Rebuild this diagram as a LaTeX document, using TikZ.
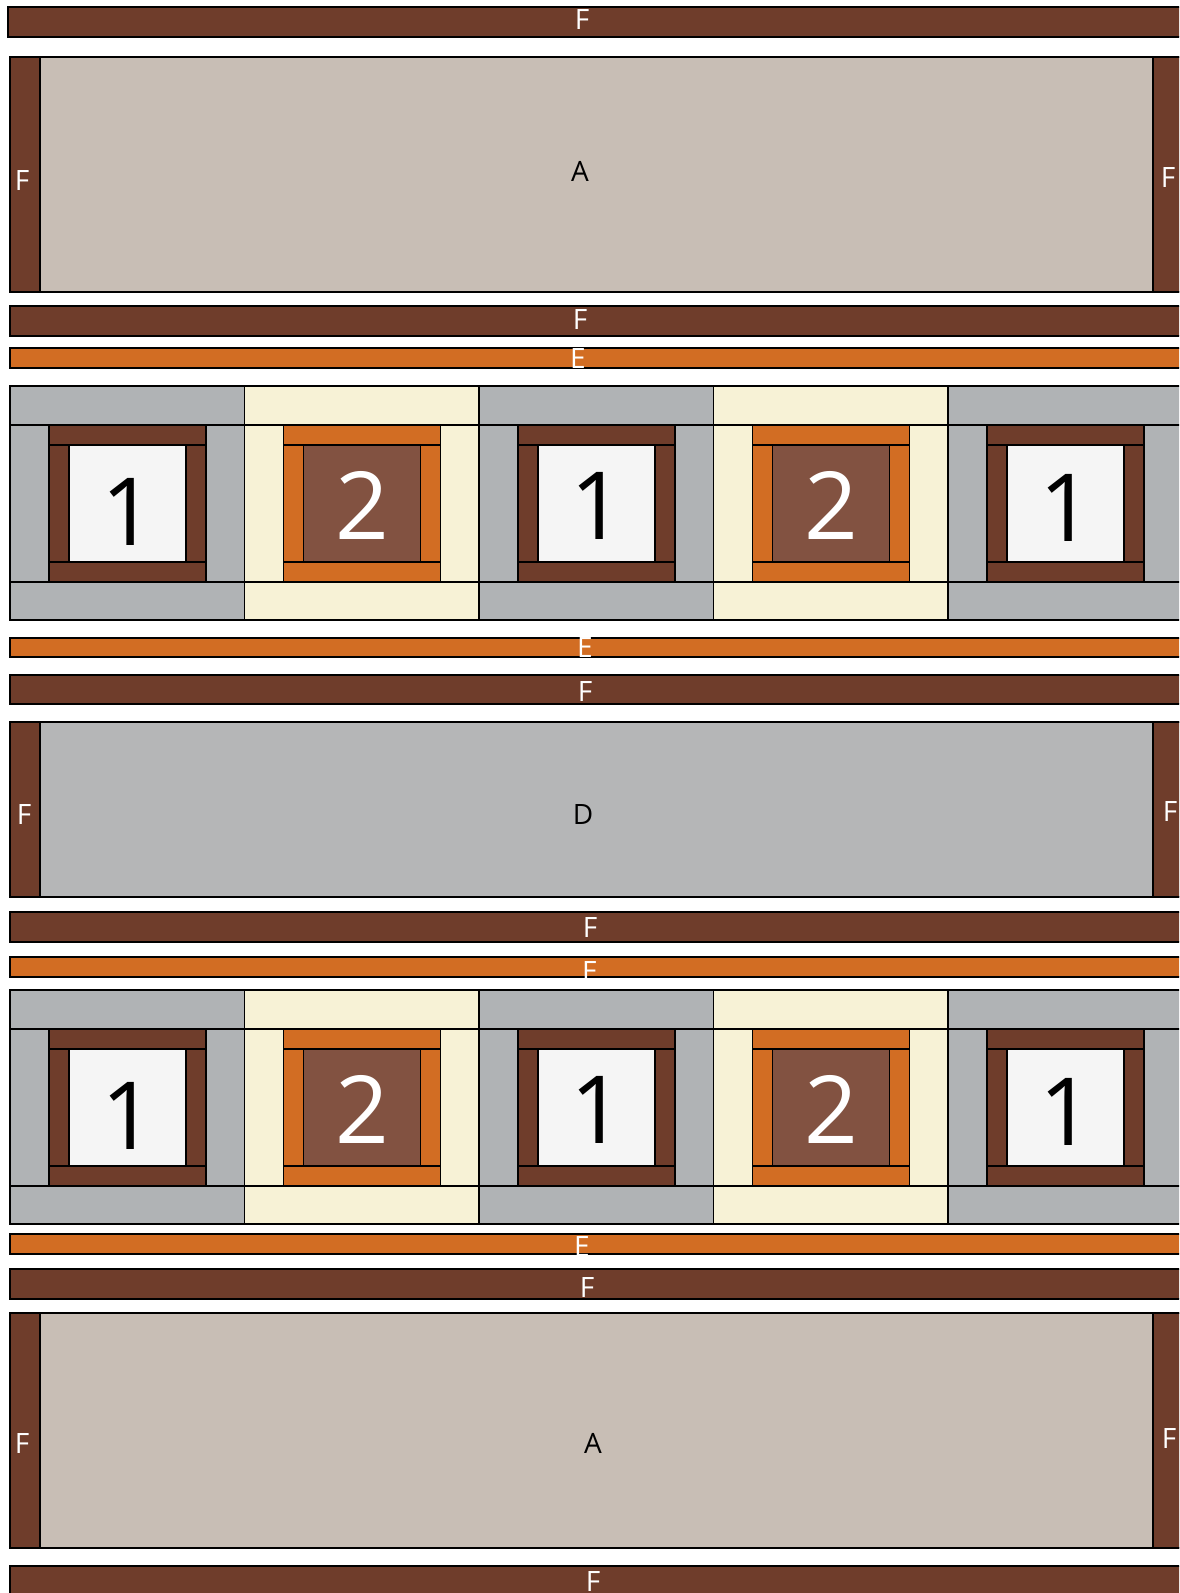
\documentclass[tikz,border=0pt]{standalone}
\usepackage{fontspec}
\setmainfont{Open Sans}
\definecolor{QUsmeda}{HTML}{6F3D2B}
\definecolor{QUbez}{HTML}{C8BEB5}
\definecolor{QUnaranca}{HTML}{D26D23}
\definecolor{QUsiva}{HTML}{B0B3B5}
\definecolor{QUsivaD}{HTML}{B5B6B7}
\definecolor{QUkrem}{HTML}{F7F2D6}
\definecolor{QUbijela}{HTML}{F5F5F5}
\definecolor{QUkakao}{HTML}{825241}

\begin{document}
\begin{tikzpicture}[x=1pt,y=-1pt,line width=1.1pt,
 QUslovo/.style={font=\fontsize{28}{30}\selectfont,inner sep=0pt},
 QUbroj/.style={font=\fontsize{94}{100}\selectfont,inner sep=0pt}]
\useasboundingbox (0,0) rectangle (1179,1593);
\clip (0,0) rectangle (1179,1593);
\draw[fill=QUsmeda] (8,7) rectangle (1190,37);
\foreach \a/\b/\c in {306/336/QUsmeda,348/368/QUnaranca,638/657/QUnaranca,675/704/QUsmeda,
 912/942/QUsmeda,957/977/QUnaranca,1234/1254/QUnaranca,1269/1299/QUsmeda,1566/1600/QUsmeda}{
 \draw[fill=\c] (10,\a) rectangle (1190,\b);}
\foreach \a/\b/\c in {57/292/QUbez,722/897/QUsivaD,1313/1548/QUbez}{
 \draw[fill=\c] (10,\a) rectangle (1190,\b);
 \draw[fill=QUsmeda] (10,\a) rectangle (40,\b) (1153,\a) rectangle (1190,\b);}
\foreach \y in {386,990}{
 \foreach \i/\s/\f/\c/\n/\t/\dy in {0/QUsiva/QUsmeda/QUbijela/1/black/9,1/QUkrem/QUnaranca/QUkakao/2/white/2,
  2/QUsiva/QUsmeda/QUbijela/1/black/3,3/QUkrem/QUnaranca/QUkakao/2/white/2,4/QUsiva/QUsmeda/QUbijela/1/black/5}{
  \begin{scope}[shift={(10+234.5*\i,\y)}]
  \draw[fill=\s] (0,0) rectangle (234.5,39) (0,196) rectangle (234.5,234)
   (0,39) rectangle (39,196) (196,39) rectangle (234.5,196);
  \draw[fill=\f] (39,39) rectangle (196,59) (39,176) rectangle (196,196)
   (39,59) rectangle (59,176) (176,59) rectangle (196,176);
  \draw[fill=\c] (59,59) rectangle (176,176);
  \node[QUbroj,text=\t] (broj\i) at (118,117+\dy) {\n};
  \end{scope}}}
\foreach \x/\y/\lab/\col [count=\k] in {582/20/F/white,580/171/A/black,22/181/F/white,1168/178/F/white,
 580/320/F/white,578/359/E/white,585/647/E/white,585/691/F/white,583/814/D/black,24/814/F/white,
 1170/811/F/white,590/927/F/white,590/971/E/white,582/1246/E/white,587/1287/F/white,
 593/1443/A/black,22/1443/F/white,1169/1438/F/white,593/1581/F/white}{
 \node[QUslovo,text=\col] (oznaka\k) at (\x,\y) {\lab};}
\end{tikzpicture}
\end{document}
